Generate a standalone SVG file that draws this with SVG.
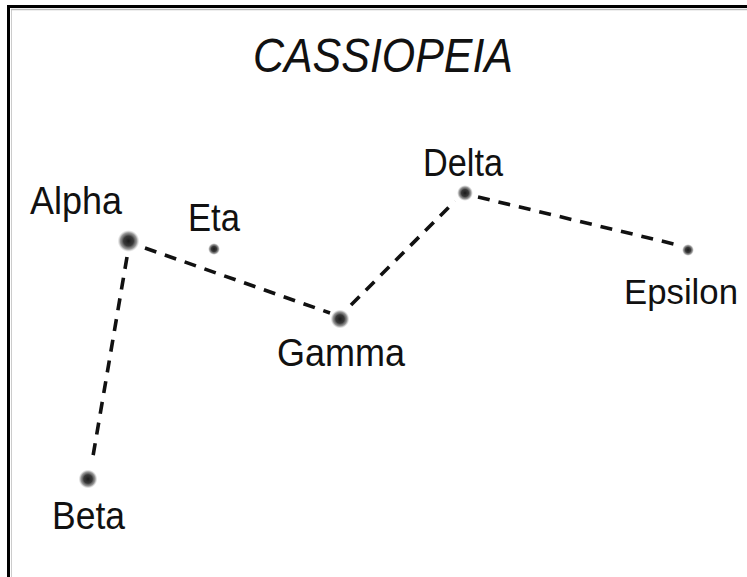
<svg xmlns="http://www.w3.org/2000/svg" width="747" height="577" viewBox="0 0 747 577">
<style>
.lbl{font-family:"Liberation Sans",Arial,sans-serif;font-size:38px;fill:#111}
.title{font-family:"Liberation Sans",Arial,sans-serif;font-size:48px;font-style:italic;fill:#111}
.link{fill:none;stroke:#111;stroke-width:3.6;stroke-dasharray:12 9}
</style>
<defs>
<radialGradient id="star">
<stop offset="0" stop-color="#1a1a1a"/>
<stop offset="0.45" stop-color="#3a3a3a"/>
<stop offset="0.75" stop-color="#777" stop-opacity="0.75"/>
<stop offset="1" stop-color="#bbb" stop-opacity="0"/>
</radialGradient>
</defs>
<rect width="747" height="577" fill="#fff"/>
<g id="frame">
<line x1="11.5" y1="10" x2="11.5" y2="577" stroke="#ccc" stroke-width="1"/>
<line x1="11" y1="9.5" x2="747" y2="9.5" stroke="#bbb" stroke-width="1.5"/>
<line x1="8.5" y1="5" x2="8.5" y2="577" stroke="#000" stroke-width="3"/>
<line x1="7" y1="6.5" x2="747" y2="6.5" stroke="#000" stroke-width="3"/>
</g>
<text id="title" class="title" x="253" y="72" textLength="260" lengthAdjust="spacingAndGlyphs">CASSIOPEIA</text>
<g id="connectors">
<line class="link" x1="145" y1="248" x2="330" y2="313"/>
<line class="link" x1="127" y1="257" x2="92" y2="462"/>
<line class="link" x1="351" y1="305" x2="455" y2="201"/>
<line class="link" x1="478" y1="197" x2="678" y2="245"/>
</g>
<g id="alpha"><circle cx="128.5" cy="241" r="11" fill="url(#star)"/><text class="lbl" x="30" y="214" textLength="92" lengthAdjust="spacingAndGlyphs">Alpha</text></g>
<g id="eta"><circle cx="214" cy="249" r="6" fill="url(#star)"/><text class="lbl" x="188" y="231" textLength="52" lengthAdjust="spacingAndGlyphs">Eta</text></g>
<g id="gamma"><circle cx="340" cy="319" r="9.5" fill="url(#star)"/><text class="lbl" x="277" y="366" textLength="128" lengthAdjust="spacingAndGlyphs">Gamma</text></g>
<g id="delta"><circle cx="465" cy="193" r="8" fill="url(#star)"/><text class="lbl" x="423" y="176" textLength="80" lengthAdjust="spacingAndGlyphs">Delta</text></g>
<g id="epsilon"><circle cx="688" cy="250" r="6" fill="url(#star)"/><text class="lbl" x="624" y="304" style="font-size:35px" textLength="114" lengthAdjust="spacingAndGlyphs">Epsilon</text></g>
<g id="beta"><circle cx="88" cy="479" r="9.5" fill="url(#star)"/><text class="lbl" x="52" y="529" textLength="73" lengthAdjust="spacingAndGlyphs">Beta</text></g>
</svg>
